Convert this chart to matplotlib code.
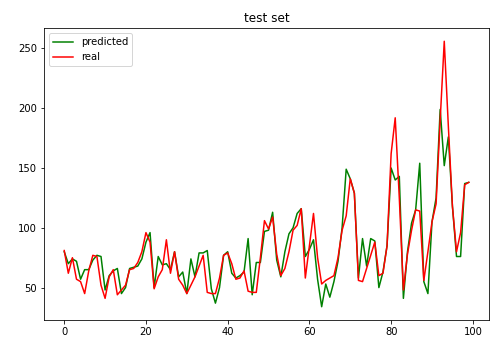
import matplotlib
matplotlib.use("Agg")
import matplotlib.pyplot as plt

# values
real = [81, 62, 75, 57, 55, 45, 64, 77, 76, 52,
        41, 59, 65, 44, 48, 52, 65, 66, 71, 80,
        96, 88, 49, 59, 65, 90, 62, 80, 57, 52,
        45, 52, 59, 68, 77, 46, 45, 45, 58, 77,
        79, 70, 57, 58, 64, 47, 46, 46, 75, 106,
        99, 109, 78, 60, 66, 80, 98, 102, 116, 58,
        85, 112, 75, 53, 56, 58, 60, 75, 98, 110,
        141, 129, 56, 55, 66, 77, 88, 60, 62, 85,
        162, 192, 125, 48, 78, 98, 115, 114, 56, 80,
        105, 120, 190, 256, 185, 118, 80, 96, 136, 138]

predicted = [80, 70, 74, 72, 57, 65, 65, 73, 77, 76,
             48, 60, 64, 66, 45, 50, 66, 67, 68, 74,
             88, 96, 50, 76, 69, 70, 65, 80, 59, 63,
             45, 74, 59, 79, 79, 81, 49, 37, 50, 77,
             80, 62, 58, 60, 63, 91, 44, 71, 71, 97,
             98, 113, 73, 59, 80, 95, 100, 112, 116, 76,
             82, 90, 57, 34, 53, 42, 55, 72, 100, 149,
             141, 129, 58, 91, 68, 91, 89, 50, 63, 85,
             150, 140, 143, 41, 80, 104, 115, 154, 55, 45,
             105, 125, 199, 152, 176, 118, 76, 76, 137, 138]

fig = plt.figure(figsize=(491 / 72, 346 / 72), dpi=72)
ax = fig.add_axes([44 / 491, (346 - 320) / 346, 445 / 491, 292 / 346])

ax.plot(predicted, color="green", label="predicted")
ax.plot(real, color="red", label="real")
ax.set_title("test set")
ax.legend(loc="upper left")

fig.savefig("out.png", dpi=72)
